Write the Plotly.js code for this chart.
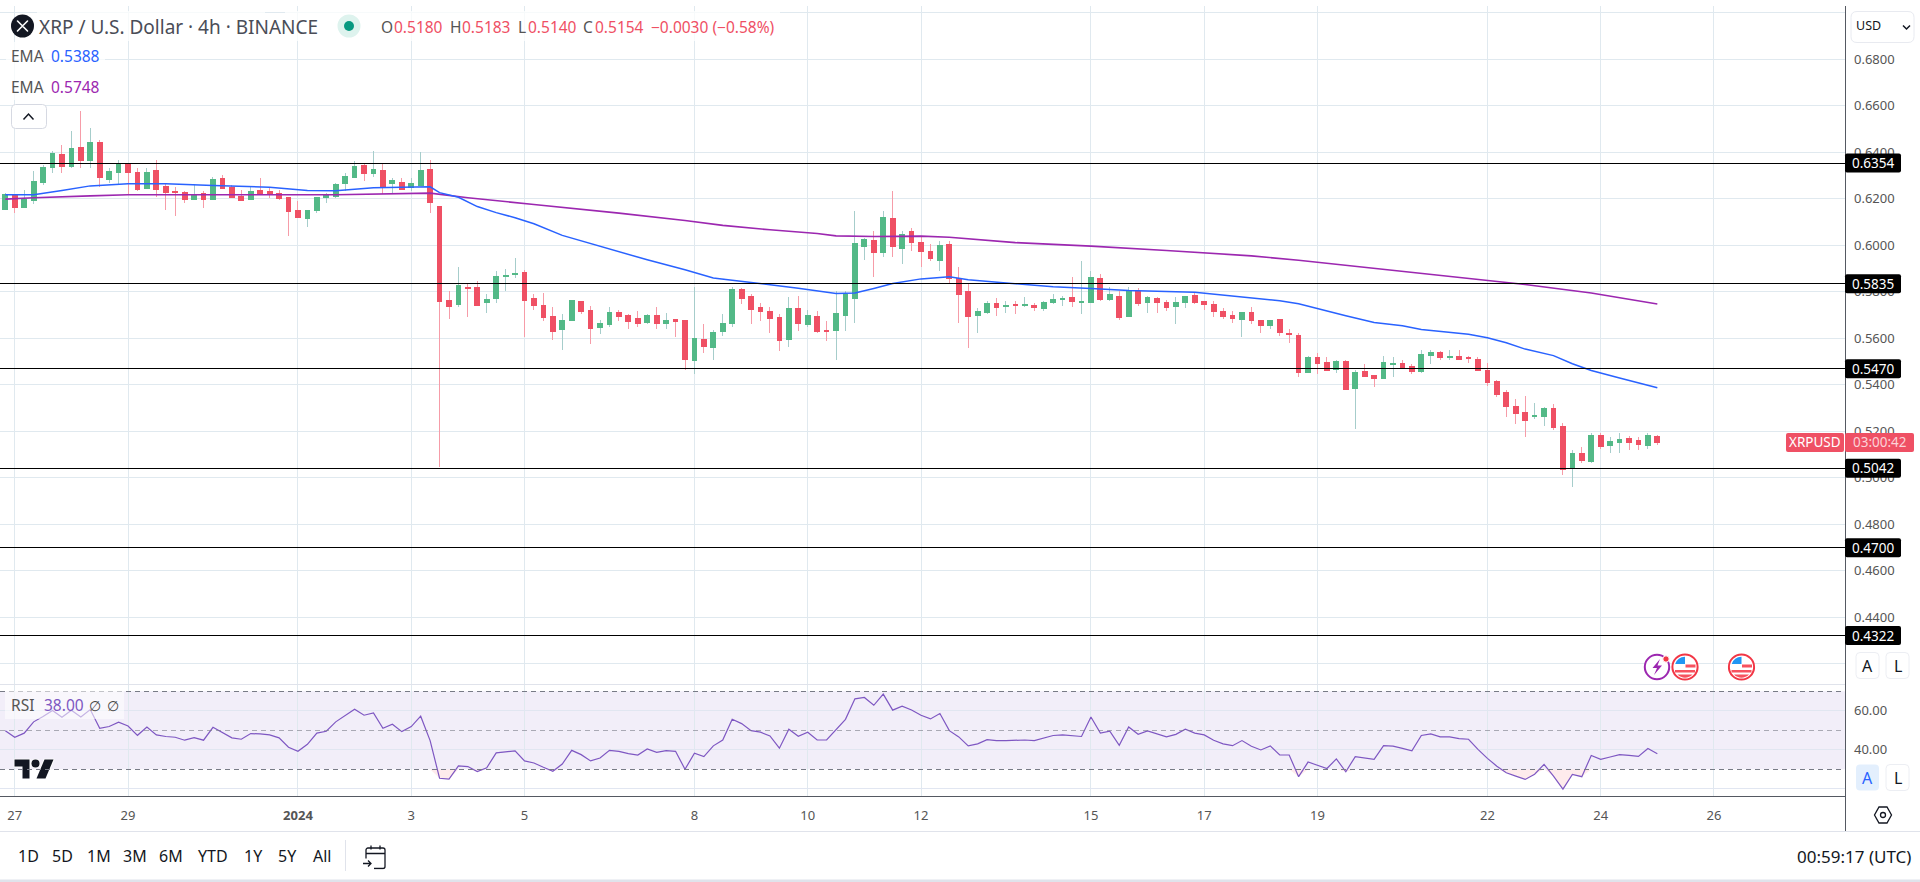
<!DOCTYPE html>
<html>
<head>
<meta charset="utf-8">
<title>XRP / U.S. Dollar</title>
<script src="https://cdn.plot.ly/plotly-3.0.1.min.js"></script>
<style>
  html, body { margin: 0; padding: 0; background: #fff; overflow: hidden; }
  #chart { width: 1920px; height: 882px; }
  .trace.boxes path { shape-rendering: crispEdges; }
</style>
</head>
<body>
<div id="chart"></div>
<script>
// 4h candles, first one is 26 Dec 2023 20:00 UTC
var opens = [
  .6154,.6215,.6163,.6193,.6270,.6335,.6391,.6339,.6421,.6365,
  .6442,.6283,.6313,.6348,.6313,.6245,.6322,.6253,.6232,.6227,
  .6197,.6223,.6197,.6288,.6249,.6210,.6197,.6236,.6232,.6223,
  .6206,.6150,.6116,.6150,.6206,.6210,.6266,.6292,.6344,.6309,
  .6322,.6266,.6270,.6249,.6258,.6326,.6167,.5763,.5746,.5820,
  .5819,.5754,.5772,.5866,.5875,.5883,.5772,.5741,.5694,.5638,
  .5677,.5759,.5720,.5647,.5660,.5711,.5698,.5685,.5668,.5698,
  .5664,.5681,.5677,.5505,.5595,.5561,.5630,.5664,.5810,.5780,
  .5733,.5716,.5690,.5595,.5729,.5660,.5694,.5634,.5634,.5698,
  .5772,.5995,.6021,.5969,.6116,.5987,.6060,.6012,.5974,.5935,
  .6004,.5858,.5802,.5698,.5711,.5750,.5737,.5746,.5741,.5741,
  .5729,.5754,.5767,.5776,.5754,.5754,.5858,.5767,.5780,.5694,
  .5802,.5754,.5772,.5754,.5737,.5754,.5784,.5759,.5746,.5716,
  .5698,.5681,.5711,.5677,.5655,.5681,.5621,.5612,.5453,.5518,
  .5496,.5466,.5500,.5384,.5458,.5440,.5427,.5488,.5492,.5479,
  .5458,.5526,.5539,.5518,.5522,.5518,.5509,.5462,.5414,.5367,
  .5307,.5281,.5264,.5264,.5298,.5221,.5045,.5105,.5070,.5182,
  .5139,.5152,.5169,.5161,.5139,.5180];
var highs = [
  .6226,.6222,.6240,.6318,.6344,.6408,.6430,.6494,.6580,.6507,
  .6455,.6335,.6369,.6356,.6335,.6331,.6369,.6266,.6253,.6232,
  .6262,.6232,.6296,.6301,.6258,.6240,.6253,.6288,.6249,.6240,
  .6206,.6193,.6154,.6210,.6227,.6270,.6313,.6361,.6352,.6408,
  .6348,.6292,.6292,.6288,.6400,.6369,.6167,.5806,.5905,.5840,
  .5849,.5789,.5888,.5900,.5944,.5896,.5789,.5797,.5737,.5703,
  .5767,.5759,.5741,.5681,.5733,.5724,.5703,.5716,.5703,.5733,
  .5711,.5685,.5681,.5823,.5660,.5638,.5707,.5819,.5815,.5789,
  .5754,.5737,.5703,.5776,.5784,.5724,.5716,.5677,.5806,.5806,
  .6150,.6030,.6060,.6146,.6236,.6064,.6077,.6034,.6008,.6017,
  .6017,.5905,.5836,.5729,.5763,.5772,.5763,.5759,.5776,.5754,
  .5763,.5793,.5784,.5866,.5931,.5892,.5875,.5819,.5802,.5819,
  .5815,.5784,.5780,.5767,.5776,.5784,.5797,.5763,.5759,.5729,
  .5716,.5711,.5733,.5681,.5681,.5685,.5642,.5625,.5526,.5539,
  .5518,.5509,.5509,.5462,.5492,.5440,.5526,.5522,.5509,.5488,
  .5552,.5552,.5544,.5548,.5552,.5526,.5518,.5496,.5419,.5380,
  .5341,.5354,.5324,.5307,.5316,.5234,.5122,.5135,.5195,.5191,
  .5174,.5195,.5182,.5178,.5195,.5183];
var lows = [
  .6154,.6139,.6163,.6180,.6258,.6313,.6313,.6331,.6331,.6335,
  .6253,.6270,.6266,.6215,.6236,.6245,.6210,.6154,.6128,.6184,
  .6197,.6159,.6197,.6245,.6202,.6193,.6197,.6219,.6206,.6197,
  .6042,.6120,.6081,.6141,.6184,.6202,.6236,.6288,.6279,.6296,
  .6223,.6219,.6240,.6232,.6258,.6141,.5049,.5685,.5737,.5694,
  .5741,.5711,.5754,.5806,.5858,.5604,.5724,.5677,.5595,.5548,
  .5677,.5707,.5574,.5617,.5651,.5677,.5642,.5651,.5660,.5642,
  .5642,.5608,.5462,.5449,.5539,.5509,.5612,.5651,.5746,.5664,
  .5677,.5625,.5544,.5561,.5630,.5651,.5625,.5587,.5505,.5630,
  .5668,.5939,.5866,.5948,.5952,.5922,.5978,.5905,.5931,.5888,
  .5836,.5668,.5557,.5625,.5707,.5698,.5711,.5707,.5737,.5716,
  .5720,.5746,.5741,.5737,.5707,.5754,.5759,.5763,.5681,.5694,
  .5741,.5711,.5711,.5720,.5660,.5729,.5750,.5724,.5690,.5685,
  .5668,.5608,.5664,.5625,.5642,.5612,.5582,.5436,.5453,.5445,
  .5462,.5453,.5376,.5212,.5432,.5389,.5427,.5436,.5475,.5445,
  .5453,.5492,.5509,.5509,.5505,.5496,.5458,.5397,.5346,.5260,
  .5230,.5178,.5255,.5225,.5204,.5014,.4959,.5066,.5062,.5126,
  .5109,.5109,.5122,.5118,.5126,.5140];
var closes = [
  .6217,.6163,.6197,.6275,.6335,.6395,.6339,.6417,.6365,.6442,
  .6292,.6318,.6352,.6313,.6240,.6313,.6240,.6227,.6227,.6197,
  .6219,.6197,.6283,.6245,.6206,.6193,.6232,.6219,.6219,.6202,
  .6146,.6120,.6150,.6206,.6219,.6262,.6296,.6339,.6309,.6326,
  .6253,.6279,.6240,.6266,.6322,.6184,.5759,.5737,.5827,.5815,
  .5741,.5767,.5866,.5870,.5879,.5763,.5741,.5690,.5630,.5677,
  .5763,.5716,.5642,.5664,.5711,.5694,.5673,.5664,.5698,.5664,
  .5677,.5673,.5509,.5600,.5565,.5625,.5664,.5810,.5772,.5724,
  .5716,.5685,.5591,.5729,.5664,.5698,.5630,.5630,.5707,.5789,
  .6008,.6025,.5969,.6120,.5995,.6047,.6012,.5974,.5944,.5999,
  .5858,.5789,.5694,.5716,.5750,.5733,.5741,.5741,.5746,.5733,
  .5754,.5767,.5772,.5759,.5759,.5862,.5767,.5789,.5690,.5806,
  .5750,.5776,.5754,.5733,.5754,.5780,.5754,.5746,.5716,.5694,
  .5685,.5711,.5677,.5655,.5677,.5625,.5617,.5453,.5518,.5492,
  .5462,.5500,.5380,.5453,.5436,.5427,.5496,.5492,.5475,.5458,
  .5531,.5539,.5518,.5522,.5509,.5513,.5462,.5410,.5359,.5307,
  .5277,.5247,.5268,.5298,.5217,.5036,.5105,.5075,.5182,.5135,
  .5156,.5165,.5152,.5143,.5182,.5154];

// RSI, one value per candle
var rsi = [
  49.7,46.4,48.5,54.3,57.0,60.1,56.7,60.3,56.8,60.6,
  51.0,51.9,54.1,52.2,47.4,51.7,47.6,46.8,46.4,44.9,
  46.2,44.9,51.5,49.0,46.1,45.4,48.3,48.1,47.6,46.1,
  41.3,39.2,42.8,48.5,49.5,54.3,57.4,60.8,57.7,58.9,
  51.0,53.1,49.3,51.9,57.2,44.7,25.4,24.9,31.7,31.4,
  28.8,30.8,38.4,38.9,39.4,34.3,33.2,31.0,29.0,32.7,
  39.7,37.5,34.3,35.8,39.7,39.2,38.0,37.3,40.4,38.7,
  39.6,39.2,30.0,38.2,36.5,42.0,45.0,55.6,53.4,49.8,
  49.0,47.1,40.8,50.5,46.9,49.0,45.0,45.0,50.5,55.6,
  66.1,66.8,62.8,68.5,60.3,62.3,60.4,57.7,55.8,58.6,
  49.8,46.6,42.0,43.0,45.2,44.7,44.7,44.9,45.0,44.7,
  46.2,47.3,47.6,47.1,46.8,56.8,48.5,49.5,42.3,51.7,
  47.9,49.7,48.1,46.6,47.9,50.5,48.5,47.6,44.9,43.0,
  42.1,44.7,41.8,39.9,42.0,37.3,37.3,26.2,33.7,32.2,
  30.4,35.3,28.7,36.5,35.8,35.1,42.1,41.9,40.7,39.5,
  47.3,48.1,46.6,46.6,45.7,45.4,40.2,35.6,31.6,28.2,
  26.5,24.8,27.5,32.5,26.5,19.8,27.4,26.2,37.1,35.1,
  36.3,37.5,37.1,36.6,40.6,38.0];

// the two EMAs, read at the candles listed in the *Bars arrays
var emaFastBars = [0,3,6,9,13,17,22,28,32,35,39,45,46,48,50,52,54,56,59,62,65,68,72,75,77,81,84,88,90,92,94,97,100,102,106,111,115,119,126,132,135,137,139,142,145,148,150,155,157,159,161,164,166,168,171,175];
var emaFast = [.6218,.6218,.6236,.6256,.6265,.6265,.6258,.6250,.6236,.6235,.6248,.6252,.6227,.6207,.6167,.6141,.6119,.6093,.6043,.6007,.5971,.5938,.5895,.5860,.5850,.5832,.5816,.5793,.5795,.5815,.5836,.5856,.5865,.5852,.5838,.5822,.5815,.5806,.5799,.5775,.5762,.5749,.5727,.5697,.5668,.5654,.5638,.5618,.5603,.5581,.5554,.5526,.5491,.5462,.5430,.5388];
var emaSlowBars = [0,3,9,13,22,35,45,49,56,60,65,72,76,81,86,88,92,97,100,107,115,123,132,137,148,161,168,175];
var emaSlow = [.6199,.6205,.6213,.6218,.6218,.6218,.6225,.6205,.6176,.6160,.6139,.6107,.6086,.6067,.6051,.6041,.6038,.6040,.6035,.6012,.5997,.5978,.5955,.5936,.5889,.5832,.5795,.5748];

// horizontal support / resistance levels
var levels = [0.6354, 0.5835, 0.5470, 0.5042, 0.4700, 0.4322];

var priceTicks = [0.42,0.44,0.46,0.48,0.50,0.52,0.54,0.56,0.58,0.60,0.62,0.64,0.66,0.68,0.70];
var priceLabels = ['','0.4400','0.4600','0.4800','0.5000','0.5200','0.5400','0.5600','0.5800','0.6000','0.6200','0.6400','0.6600','0.6800',''];
var rsiTicks = [20, 40, 60];
var rsiLabels = ['', '40.00', '60.00'];
var dayTicks = ['2023-12-27','2023-12-29','2024-01-01','2024-01-03','2024-01-05','2024-01-08','2024-01-10','2024-01-12','2024-01-15','2024-01-17','2024-01-19','2024-01-22','2024-01-24','2024-01-26'];
var dayLabels = ['27','29','<b>2024</b>','3','5','8','10','12','15','17','19','22','24','26'];
var periods = [['1D',28],['5D',62],['1M',99],['3M',135],['6M',171],['YTD',213],['1Y',253],['5Y',287],['All',322]];

var W = 1920, H = 882;
var AXIS_X = 1845, RED = '#ef5064', GREEN = '#53b987', GRID = '#e0e9ef', FONT = '"Noto Sans", sans-serif';
function X(px) { return px / W; }
function Y(py) { return 1 - py / H; }
function priceY(v) { return 477.9 + (0.5 - v) * 2325; }

var times = opens.map(function (v, i) {
  return new Date(Date.UTC(2023, 11, 26, 20 + 4 * i)).toISOString().slice(0, 16).replace('T', ' ');
});
function pick(bars) { return bars.map(function (i) { return times[i]; }); }
var bodyTop = opens.map(function (o, i) { return Math.max(o, closes[i]); });
var bodyBottom = opens.map(function (o, i) { return Math.min(o, closes[i]); });

var data = [
  // wicks
  { type: 'candlestick', x: times, open: opens, high: highs, low: lows, close: closes, whiskerwidth: 0,
    increasing: { line: { color: '#a6cdcb', width: 1 }, fillcolor: '#a6cdcb' },
    decreasing: { line: { color: '#f69ca8', width: 1 }, fillcolor: '#f69ca8' } },
  // bodies
  { type: 'candlestick', x: times, open: opens, high: bodyTop, low: bodyBottom, close: closes, whiskerwidth: 0,
    increasing: { line: { color: GREEN, width: 1 }, fillcolor: GREEN },
    decreasing: { line: { color: RED, width: 1 }, fillcolor: RED } },
  { type: 'scatter', mode: 'lines', x: pick(emaSlowBars), y: emaSlow, line: { color: '#9c27b0', width: 1.6 } },
  { type: 'scatter', mode: 'lines', x: pick(emaFastBars), y: emaFast, line: { color: '#2962ff', width: 1.5 } },
  // pink area below the 30 line
  { type: 'scatter', mode: 'lines', x: times, y: times.map(function () { return 30; }), yaxis: 'y2', line: { width: 0 } },
  { type: 'scatter', mode: 'lines', x: times, y: rsi.map(function (v) { return Math.min(v, 30); }), yaxis: 'y2',
    line: { width: 0 }, fill: 'tonexty', fillcolor: 'rgba(242,54,69,0.10)' },
  { type: 'scatter', mode: 'lines', x: times, y: rsi, yaxis: 'y2', line: { color: '#7e57c2', width: 1.2 } }
];

// ---- shapes
var shapes = [];
function box(x0, y0, x1, y1, fill, line) {
  shapes.push({ type: 'rect', xref: 'paper', yref: 'paper', x0: X(x0), x1: X(x1), y0: Y(y0), y1: Y(y1),
    fillcolor: fill, line: line ? { color: line, width: 1 } : { width: 0 } });
}
function rounded(x0, y0, x1, y1, r, fill, line) {
  var p = 'M' + X(x0 + r) + ',' + Y(y0) + ' L' + X(x1 - r) + ',' + Y(y0) +
    ' Q' + X(x1) + ',' + Y(y0) + ' ' + X(x1) + ',' + Y(y0 + r) + ' L' + X(x1) + ',' + Y(y1 - r) +
    ' Q' + X(x1) + ',' + Y(y1) + ' ' + X(x1 - r) + ',' + Y(y1) + ' L' + X(x0 + r) + ',' + Y(y1) +
    ' Q' + X(x0) + ',' + Y(y1) + ' ' + X(x0) + ',' + Y(y1 - r) + ' L' + X(x0) + ',' + Y(y0 + r) +
    ' Q' + X(x0) + ',' + Y(y0) + ' ' + X(x0 + r) + ',' + Y(y0) + ' Z';
  shapes.push({ type: 'path', xref: 'paper', yref: 'paper', path: p, fillcolor: fill,
    line: line ? { color: line, width: 1 } : { width: 0 } });
}
function seg(x0, y0, x1, y1, color) {
  shapes.push({ type: 'line', xref: 'paper', yref: 'paper', x0: X(x0), x1: X(x1), y0: Y(y0), y1: Y(y1),
    line: { color: color, width: 1 } });
}
function chevron(x0, x1, yEnds, yTip) {
  shapes.push({ type: 'path', xref: 'paper', yref: 'paper', line: { color: '#131722', width: 1.5 },
    path: 'M' + X(x0) + ',' + Y(yEnds) + ' L' + X((x0 + x1) / 2) + ',' + Y(yTip) + ' L' + X(x1) + ',' + Y(yEnds) });
}

// RSI band and its dashed lines
shapes.push({ type: 'rect', xref: 'x domain', yref: 'y2', x0: 0, x1: 1, y0: 30, y1: 70, layer: 'below',
  fillcolor: 'rgba(126,87,194,0.10)', line: { width: 0 } });
[[70, '#787b86'], [50, 'rgba(120,123,134,0.6)'], [30, '#787b86']].forEach(function (d) {
  shapes.push({ type: 'line', xref: 'x domain', yref: 'y2', x0: 0, x1: 1, y0: d[0], y1: d[0],
    line: { color: d[1], width: 1, dash: '5px,4px' } });
});
levels.forEach(function (v) {
  shapes.push({ type: 'line', xref: 'x domain', yref: 'y', x0: 0, x1: 1, y0: v, y1: v, line: { color: '#000', width: 1 } });
});

// frame
seg(0, 684, AXIS_X, 684, '#e0e3eb');
seg(AXIS_X, 6, AXIS_X, 831, '#555962');
seg(0, 831, W, 831, '#e0e3eb');
box(0, 879.5, W, 882, '#e0e3eb');
seg(345, 840, 345, 871, '#e0e3eb');

// white panels behind legend texts
box(5, 691, 124, 719, 'rgba(255,255,255,0.55)');
box(37, 11, 265, 41, 'rgba(255,255,255,0.75)');
box(285, 11, 780, 41, 'rgba(255,255,255,0.75)');
box(6, 42, 105, 100, 'rgba(255,255,255,0.75)');

// buttons
rounded(11.5, 104.5, 46.5, 128.5, 4, '#fff', '#d6d9e2');
chevron(23.5, 33.5, 119.5, 114);
rounded(1851, 11.5, 1914, 42.5, 6, '#fff', '#e8eaf0');
chevron(1903, 1910, 25.5, 29);
rounded(1856, 652.5, 1879, 678.5, 4, '#fff', '#eceef3');
rounded(1886, 652.5, 1909, 678.5, 4, '#fff', '#eceef3');
rounded(1856, 764.5, 1879, 790.5, 4, '#e3effd');
rounded(1886, 764.5, 1909, 790.5, 4, '#fff', '#eceef3');

// price tags on the scale
levels.forEach(function (v) {
  rounded(AXIS_X, priceY(v) - 9.5, 1901, priceY(v) + 9.5, 2, '#000');
});
rounded(1786, 433, 1844, 452, 2, RED);
rounded(AXIS_X, 433, 1914, 452, 2, RED);

// green market dot
shapes.push({ type: 'circle', xref: 'paper', yref: 'paper', x0: X(337.5), x1: X(360.5), y0: Y(14.5), y1: Y(37.5), fillcolor: '#def3ee', line: { width: 0 } });
shapes.push({ type: 'circle', xref: 'paper', yref: 'paper', x0: X(344), x1: X(354), y0: Y(21), y1: Y(31), fillcolor: '#089981', line: { width: 0 } });

// ---- texts
var annotations = [];
function label(text, px, py, color, size, anchor) {
  annotations.push({ text: text, xref: 'paper', yref: 'paper', x: X(px), y: Y(py), xanchor: anchor || 'left', yanchor: 'middle',
    showarrow: false, font: { family: FONT, size: size || 15.5, color: color || '#555' }, borderpad: 0 });
}
label('XRP / U.S. Dollar · 4h · BINANCE', 38, 26.5, '#4a4d57', 19);
[['O', '0.5180', 380, 393], ['H', '0.5183', 449, 461], ['L', '0.5140', 517, 527], ['C', '0.5154', 582, 594]].forEach(function (d) {
  label(d[0], d[2], 26.5, '#555');
  label(d[1], d[3], 26.5, RED);
});
label('−0.0030 (−0.58%)', 650, 26.5, RED);
label('EMA', 10, 56.5, '#555');
label('0.5388', 50, 56.5, '#2962ff');
label('EMA', 10, 86.5, '#555');
label('0.5748', 50, 86.5, '#9c27b0');
label('RSI', 10, 705, '#555');
label('38.00', 43, 705, '#7e57c2');
label('∅', 88, 705, '#444', 14);
label('∅', 106, 705, '#444', 14);
label('USD', 1855, 26, '#131722', 12.5);
levels.forEach(function (v) {
  label(v.toFixed(4), 1873, priceY(v), '#fff', 13.5, 'center');
});
label('XRPUSD', 1815, 442.5, '#fff', 13.5, 'center');
label('03:00:42', 1879.5, 442.5, '#fcd3d8', 13.5, 'center');
label('A', 1867.5, 665.5, '#131722', 16, 'center');
label('L', 1897.5, 665.5, '#131722', 16, 'center');
label('A', 1867.5, 777.5, '#2962ff', 16, 'center');
label('L', 1897.5, 777.5, '#131722', 16, 'center');
periods.forEach(function (p) { label(p[0], p[1], 856, '#131722', 16, 'center'); });
label('00:59:17 (UTC)', 1912, 856, '#131722', 17, 'right');

// ---- icons
var images = [];
function icon(svg, cx, cy, w, h) {
  images.push({ source: 'data:image/svg+xml;charset=utf-8,' + encodeURIComponent(
      '<svg xmlns="http://www.w3.org/2000/svg" width="' + w + '" height="' + h + '" viewBox="0 0 ' + w + ' ' + h + '">' + svg + '</svg>'),
    xref: 'paper', yref: 'paper', x: X(cx - w / 2), y: Y(cy - h / 2), sizex: w / W, sizey: h / H,
    xanchor: 'left', yanchor: 'top', sizing: 'stretch', layer: 'above' });
}
var flag = '<circle cx="14" cy="14" r="12.6" fill="#fff" stroke="#f23645" stroke-width="2"/>' +
  '<path d="M4.200 11h9.800V3.700A10.500 10.500 0 0 0 4.200 11z" fill="#2196f3"/>' +
  '<path d="M14.500 11.500h10v3h-10zM4 17h20v2.400H4zM6.500 21.500h15A10.500 10.500 0 0 1 6.500 21.500z" fill="#f7525f"/>';
icon('<circle cx="12" cy="12" r="11.500" fill="#131722"/><path d="M7 7l4 4q1 1 2 0l4-4M7 17l4-4q1-1 2 0l4 4" fill="none" stroke="#fff" stroke-width="1.600" stroke-linecap="round"/>', 22.5, 26, 24, 24);
icon('<g stroke="#fff" stroke-width="2" paint-order="stroke" fill="#131722"><path d="M1 1h15v19H9V8H1z"/><circle cx="22" cy="5" r="4"/><path d="M31 1h9l-8 19h-9z"/></g>', 34, 769, 41, 21);
icon('<circle cx="14" cy="14" r="12.200" fill="#fff" stroke="#9c27b0" stroke-width="2"/><path d="M17 6l-7.500 9h4.500l-3 7 8-9.500h-4.500z" fill="#9c27b0"/><circle cx="23" cy="6" r="3.200" fill="#f23645" stroke="#fff"/>', 1657, 667, 28, 28);
icon(flag, 1685, 667, 28, 28);
icon(flag, 1741.5, 667, 28, 28);
icon('<path d="M6 1.500h8l4.500 8-4.500 8H6l-4.500-8z" fill="none" stroke="#131722" stroke-width="1.300"/><circle cx="10" cy="9.500" r="2.500" fill="none" stroke="#131722" stroke-width="1.300"/>', 1883, 815, 20, 19);
icon('<path d="M4 14V5.500a2 2 0 0 1 2-2h15a2 2 0 0 1 2 2V22a2 2 0 0 1-2 2H12M4 9h19M9 1v4M18 1v4M1 19h8M6 16l3 3-3 3" fill="none" stroke="#131722" stroke-width="1.300"/>', 374, 857, 24, 25);

var layout = {
  width: W, height: H,
  margin: { l: 0, r: 0, t: 0, b: 0 },
  paper_bgcolor: '#fff', plot_bgcolor: '#fff',
  font: { family: FONT, color: '#555', size: 13 },
  showlegend: false,
  boxgap: 0.28,
  xaxis: {
    type: 'date', domain: [0, AXIS_X / W], anchor: 'y2', range: ['2023-12-26 17:45', '2024-01-28 07:31'],
    rangeslider: { visible: false }, tickmode: 'array', tickvals: dayTicks, ticktext: dayLabels, ticklabelstandoff: 7,
    showgrid: true, gridcolor: GRID, gridwidth: 1, zeroline: false, showline: true, linecolor: '#555962', linewidth: 1, ticks: '',
    tickangle: 0
  },
  yaxis: {
    domain: [Y(684), Y(6)], anchor: 'x', side: 'right', range: [0.41135, 0.70297], tickmode: 'array',
    tickvals: priceTicks, ticktext: priceLabels, showgrid: true, gridcolor: GRID, gridwidth: 1, zeroline: false,
    ticks: '', ticklabelstandoff: 8, showline: false
  },
  yaxis2: {
    domain: [Y(796), Y(684)], anchor: 'x', side: 'right', range: [16.3, 73.7], tickmode: 'array',
    tickvals: rsiTicks, ticktext: rsiLabels, showgrid: true, gridcolor: '#e1e6f1', gridwidth: 1, zeroline: false,
    ticks: '', ticklabelstandoff: 8, showline: false
  },
  shapes: shapes, annotations: annotations, images: images
};

Plotly.newPlot('chart', data, layout, { displayModeBar: false, staticPlot: true }).then(function () {
  // keep the straight rules one pixel sharp
  document.querySelectorAll('.shapelayer path').forEach(function (p) {
    if (/^M[^LQ]*L[^LQ]*$/.test(p.getAttribute('d'))) p.style.shapeRendering = 'crispEdges';
  });
});
</script>
</body>
</html>
